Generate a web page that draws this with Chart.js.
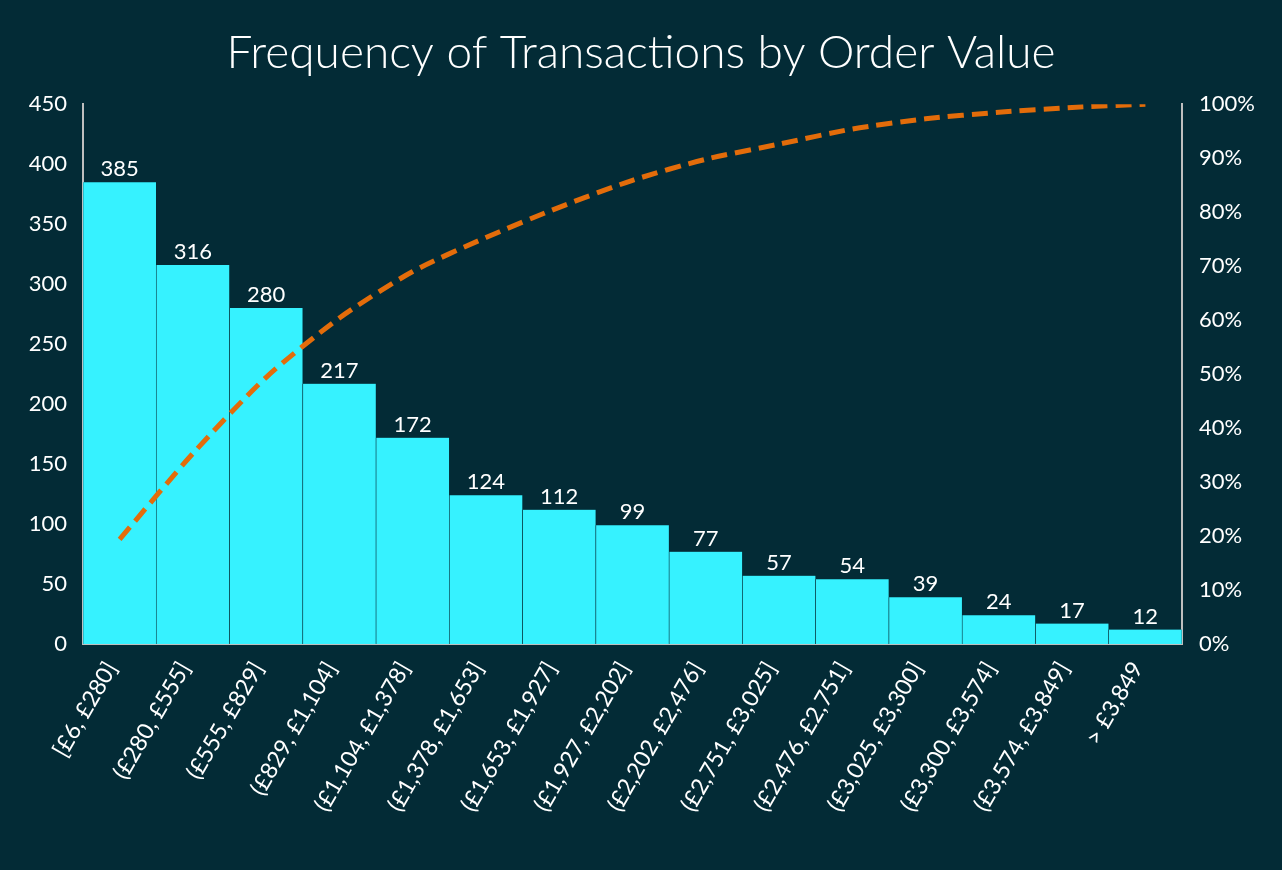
<!DOCTYPE html>
<html>
<head>
<meta charset="utf-8">
<script src="https://cdn.jsdelivr.net/npm/chart.js@4/dist/chart.umd.min.js"></script>
<style>
  html, body { margin: 0; padding: 0; background: #032B36; }
  #wrap { width: 1282px; height: 870px; }
</style>
</head>
<body>
<div id="wrap"><canvas id="c" width="1282" height="870"></canvas></div>
<script>
const categories = ["[£6, £280]", "(£280, £555]", "(£555, £829]", "(£829, £1,104]", "(£1,104, £1,378]",
  "(£1,378, £1,653]", "(£1,653, £1,927]", "(£1,927, £2,202]", "(£2,202, £2,476]", "(£2,751, £3,025]",
  "(£2,476, £2,751]", "(£3,025, £3,300]", "(£3,300, £3,574]", "(£3,574, £3,849]", "> £3,849"];
const frequency = [385, 316, 280, 217, 172, 124, 112, 99, 77, 57, 54, 39, 24, 17, 12];
const cumulativePct = [0.194, 0.353, 0.494, 0.604, 0.690, 0.753, 0.809, 0.859, 0.898, 0.926, 0.954, 0.973, 0.985, 0.994, 1.0];
const titleText = "Frequency of Transactions by Order Value";

const BG = '#032B36';
const FONT = 'Lato, "Open Sans", sans-serif';

const barLabels = {
  id: 'barLabels',
  afterDatasetsDraw(chart) {
    const ctx = chart.ctx;
    const meta = chart.getDatasetMeta(1);
    ctx.save();
    ctx.fillStyle = '#FFFFFF';
    ctx.font = '22px ' + FONT;
    ctx.textAlign = 'center';
    ctx.textBaseline = 'alphabetic';
    meta.data.forEach((el, i) => {
      ctx.fillText(String(chart.data.datasets[1].data[i]), el.x, el.y - 6);
    });
    ctx.restore();
  }
};

Chart.defaults.font.family = FONT;
Chart.defaults.color = '#FFFFFF';

new Chart(document.getElementById('c'), {
  data: {
    labels: categories,
    datasets: [
      {
        type: 'line',
        data: cumulativePct,
        yAxisID: 'y1',
        borderColor: '#E36C0A',
        borderWidth: 5,
        borderDash: [16, 8],
        pointRadius: 0,
        tension: 0.25,
        fill: false,
        order: 0
      },
      {
        type: 'bar',
        data: frequency,
        yAxisID: 'y',
        backgroundColor: '#36F2FF',
        borderColor: BG,
        borderWidth: { left: 0.6, right: 0.6, top: 0, bottom: 0 },
        borderSkipped: false,
        categoryPercentage: 1.0,
        barPercentage: 1.0,
        order: 1
      }
    ]
  },
  options: {
    responsive: false,
    animation: false,
    layout: { padding: { left: 0, right: 0, top: 0, bottom: 0 } },
    plugins: {
      legend: { display: false },
      tooltip: { enabled: false },
      title: {
        display: true,
        text: titleText,
        color: '#FFFFFF',
        font: { size: 46, weight: 300, family: FONT, lineHeight: 1.2 },
        padding: { top: 26, bottom: 23 }
      }
    },
    scales: {
      x: {
        offset: true,
        grid: { display: false, drawTicks: false },
        border: { display: true, color: '#BFBFBF', width: 2 },
        ticks: {
          color: '#FFFFFF',
          font: { size: 23 },
          maxRotation: 60,
          minRotation: 60,
          autoSkip: false,
          padding: 13,
          labelOffset: -8
        },
        afterFit(scale) { scale.height = 226; }
      },
      y: {
        position: 'left',
        min: 0,
        max: 450,
        grid: { display: false, drawTicks: false },
        border: { display: true, color: '#BFBFBF', width: 2 },
        ticks: { stepSize: 50, color: '#FFFFFF', font: { size: 22 }, padding: 16 },
        afterFit(scale) { scale.width = 83; }
      },
      y1: {
        position: 'right',
        min: 0,
        max: 1,
        grid: { display: false, drawTicks: false },
        border: { display: true, color: '#BFBFBF', width: 2 },
        ticks: {
          stepSize: 0.1,
          color: '#FFFFFF',
          font: { size: 22 },
          padding: 17,
          callback: v => Math.round(v * 100) + '%'
        },
        afterFit(scale) { scale.width = 100; }
      }
    }
  },
  plugins: [barLabels, {
    id: 'bg',
    beforeDraw(chart) {
      const ctx = chart.ctx;
      ctx.save();
      ctx.fillStyle = BG;
      ctx.fillRect(0, 0, chart.width, chart.height);
      ctx.restore();
    }
  }]
});
</script>
</body>
</html>
